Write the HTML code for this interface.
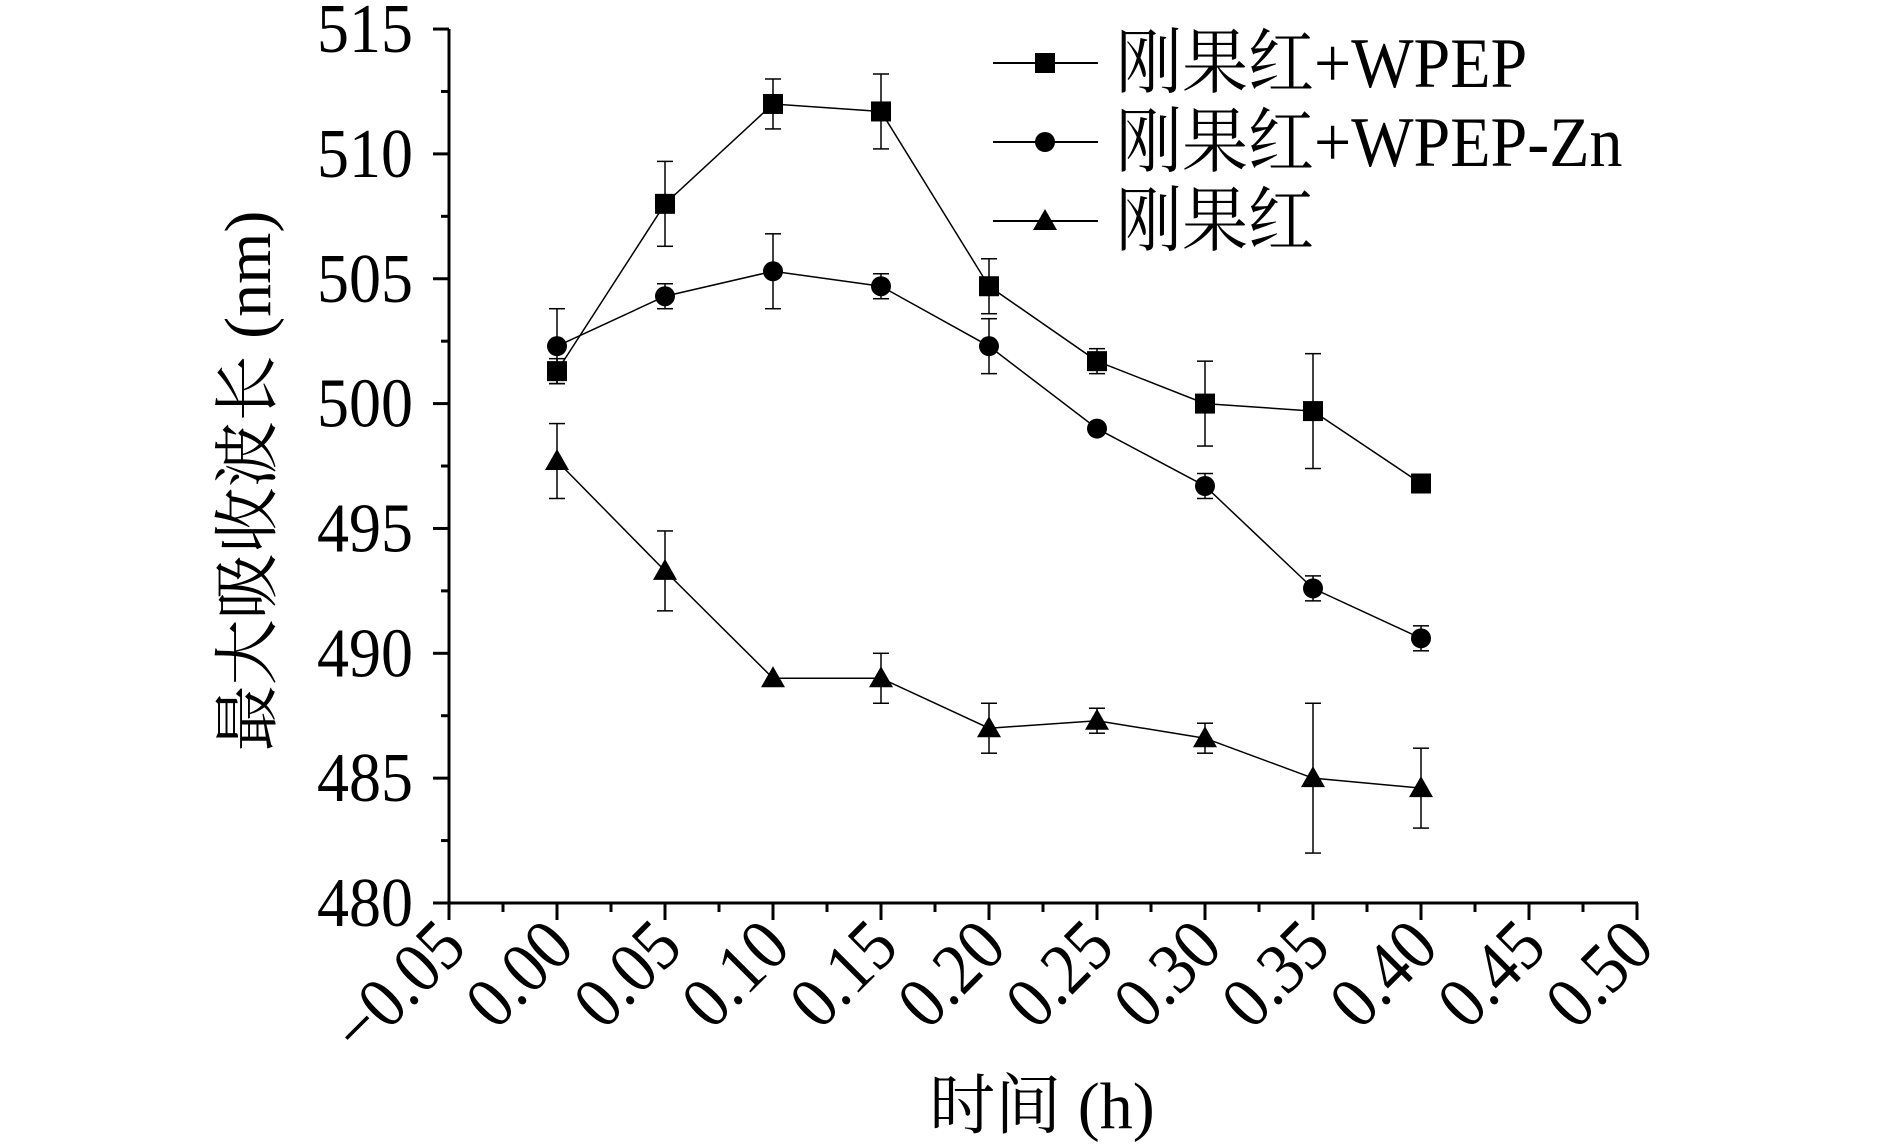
<!DOCTYPE html>
<html><head><meta charset="utf-8"><style>
html,body{margin:0;padding:0;background:#fff;}
svg text{font-family:"Liberation Serif","Noto Serif CJK SC",serif;fill:#000;}
</style></head><body>
<svg id="s" width="1890" height="1143" viewBox="0 0 1890 1143" xmlns="http://www.w3.org/2000/svg"></svg>
<script>
const s=document.getElementById('s');let h='';
const X=t=>449+(t+0.05)*2160, Y=v=>903-(v-480)*24.97;
h+='<line x1="449" y1="29" x2="449" y2="905" stroke="#000" stroke-width="3"/>';
h+='<line x1="447" y1="903" x2="1638" y2="903" stroke="#000" stroke-width="3"/>';
for(let v=480;v<=515;v+=2.5){const y=Y(v),maj=(v%5==0);h+=`<line x1="${maj?433:441}" y1="${y}" x2="449" y2="${y}" stroke="#000" stroke-width="3"/>`;
 if(maj)h+=`<text transform="translate(413,${y+23}) scale(1,1.1)" font-size="64" text-anchor="end">${v}</text>`;}
for(let i=0;i<=22;i++){const t=-0.05+i*0.025,x=X(t),maj=i%2==0;h+=`<line x1="${x}" y1="903" x2="${x}" y2="${maj?920:912}" stroke="#000" stroke-width="3"/>`;
 if(maj){const lab=(i==0?'\u22120.05':t.toFixed(2));h+=`<text transform="translate(${x+20},${950}) rotate(-45) scale(1,1.1)" font-size="66" text-anchor="end">${lab}</text>`;}}
h+=`<text transform="translate(270,481) rotate(-90)" font-size="66" text-anchor="middle">最大吸收波长 (nm)</text>`;
h+=`<text x="1042" y="1128" font-size="66" text-anchor="middle">时间 (h)</text>`;
const T=[0,.05,.1,.15,.2,.25,.3,.35,.4];
const S=[
 {m:'sq',v:[501.3,508,512,511.7,504.7,501.7,500,499.7,496.8],e:[0.5,1.7,1,1.5,1.1,0.5,1.7,2.3,0]},
 {m:'ci',v:[502.3,504.3,505.3,504.7,502.3,499,496.7,492.6,490.6],e:[1.5,0.5,1.5,0.5,1.1,0,0.5,0.5,0.5]},
 {m:'tr',v:[497.7,493.3,489,489,487,487.3,486.6,485,484.6],e:[1.5,1.6,0,1,1,0.5,0.6,3,1.6]}];
function mk(m,x,y){if(m=='sq')return `<rect x="${x-10}" y="${y-10}" width="20" height="20" fill="#000"/>`;
 if(m=='ci')return `<circle cx="${x}" cy="${y}" r="10" fill="#000"/>`;
 return `<polygon points="${x},${y-12} ${x-12},${y+9} ${x+12},${y+9}" fill="#000"/>`;}
S.forEach(sr=>{let p=T.map((t,i)=>X(t)+','+Y(sr.v[i])).join(' ');
 h+=`<polyline points="${p}" fill="none" stroke="#000" stroke-width="1.5"/>`;
 T.forEach((t,i)=>{const x=X(t),e=sr.e[i];if(e>0){const y1=Y(sr.v[i]+e),y2=Y(sr.v[i]-e);
  h+=`<line x1="${x}" y1="${y1}" x2="${x}" y2="${y2}" stroke="#000" stroke-width="1.5"/><line x1="${x-8}" y1="${y1}" x2="${x+8}" y2="${y1}" stroke="#000" stroke-width="1.5"/><line x1="${x-8}" y1="${y2}" x2="${x+8}" y2="${y2}" stroke="#000" stroke-width="1.5"/>`;}
  h+=mk(sr.m,x,Y(sr.v[i]));});});
const L=[['sq','刚果红+WPEP',63],['ci','刚果红+WPEP-Zn',142],['tr','刚果红',221]];
L.forEach(l=>{h+=`<line x1="993" y1="${l[2]}" x2="1098" y2="${l[2]}" stroke="#000" stroke-width="2"/>`+mk(l[0],1045,l[2]);
 h+=`<text transform="translate(1116,${l[2]+24}) scale(1,1.08)" font-size="66">${l[1]}</text>`;});
s.innerHTML=h;
</script>
</body></html>
